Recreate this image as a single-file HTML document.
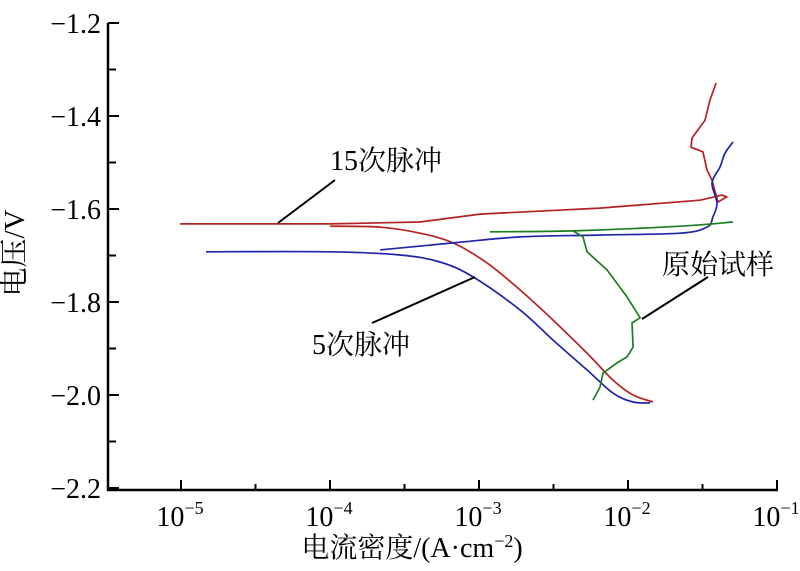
<!DOCTYPE html>
<html><head><meta charset="utf-8"><style>
body{margin:0;background:#fff;}
svg text{font-family:"Liberation Serif","Noto Serif CJK SC","Noto Sans CJK SC",serif;fill:#000;}
</style></head><body>
<svg id="chart" width="800" height="566" xmlns="http://www.w3.org/2000/svg">
<g id="axes"></g>
<g id="series"></g>
<g id="annot">
<text x="330" y="170" font-size="28">15次脉冲</text>
<line x1="335" y1="180" x2="278" y2="223" stroke="#000" stroke-width="2"/>
<text x="312" y="354" font-size="28">5次脉冲</text>
<line x1="372" y1="323" x2="475" y2="277" stroke="#000" stroke-width="2"/>
<text x="662" y="274" font-size="28">原始试样</text>
<line x1="642" y1="319" x2="708" y2="277" stroke="#000" stroke-width="2"/>
<text x="24" y="253" font-size="29" text-anchor="middle" transform="rotate(-90 24 253)">电压/V</text>
<text x="412" y="557" font-size="28" text-anchor="middle">电流密度/(A·cm<tspan dy="-10" font-size="18">−2</tspan><tspan dy="10">)</tspan></text>
</g>
</svg>
<script>
const xTicks=[-5,-4,-3,-2,-1];
const yTicks=[-1.2,-1.4,-1.6,-1.8,-2.0,-2.2];
const yTickLabels=["−1.2","−1.4","−1.6","−1.8","−2.0","−2.2"];
const red15AnodicLog=[-5.007,-4.0,-3.396,-2.993,-2.188,-1.517,-1.369,-1.336,-1.396,-1.436,-1.470,-1.497,-1.577,-1.570,-1.483,-1.450,-1.409];
const red15AnodicE=[-1.632,-1.632,-1.628,-1.611,-1.598,-1.581,-1.570,-1.574,-1.585,-1.538,-1.516,-1.477,-1.467,-1.447,-1.409,-1.366,-1.329];
const red15CathLog=[-4.0,-3.664,-3.396,-3.174,-2.946,-2.725,-2.503,-2.275,-2.101,-1.966,-1.832];
const red15CathE=[-1.637,-1.639,-1.652,-1.673,-1.716,-1.774,-1.839,-1.910,-1.968,-2.0,-2.015];
const blue5CathLog=[-4.832,-4.0,-3.530,-3.262,-3.040,-2.725,-2.503,-2.275,-2.101,-1.966,-1.852];
const blue5CathE=[-1.692,-1.692,-1.699,-1.714,-1.746,-1.817,-1.882,-1.946,-1.996,-2.015,-2.017];
const blue5AnodicLog=[-3.664,-3.174,-2.725,-2.188,-1.651,-1.470,-1.430,-1.403,-1.436,-1.383,-1.349,-1.295];
const blue5AnodicE=[-1.688,-1.673,-1.660,-1.656,-1.652,-1.639,-1.617,-1.587,-1.544,-1.510,-1.480,-1.456];
const greenFlatLog=[-2.926,-2.369,-1.651,-1.295];
const greenFlatE=[-1.649,-1.647,-1.637,-1.628];
const greenDescLog=[-2.369,-2.302,-2.275,-2.141,-2.007,-1.919,-1.973,-1.966,-2.007,-2.074,-2.168,-2.188,-2.235];
const greenDescE=[-1.647,-1.660,-1.692,-1.731,-1.789,-1.834,-1.845,-1.897,-1.918,-1.931,-1.953,-1.983,-2.011];

const NS="http://www.w3.org/2000/svg";
const X=l=>181+(l+5)*149;
const Y=e=>23+(-1.2-e)*465;
const axes=document.getElementById('axes'), ser=document.getElementById('series');
function mk(tag,attrs,parent){const el=document.createElementNS(NS,tag);for(const k in attrs)el.setAttribute(k,attrs[k]);parent.appendChild(el);return el;}
let a=mk('path',{d:'M108,23 L108,490 L778,490',fill:'none',stroke:'#000','stroke-width':2.5},axes);


yTicks.forEach((v,i)=>{
 const y=Y(v);
 let t=mk('line',{x1:108,x2:119,y1:y,y2:y,stroke:'#000','stroke-width':2},axes);
 
 
 if(i<yTicks.length-1){const ym=Y(v-0.1);let m=mk('line',{x1:108,x2:116,y1:ym,y2:ym,stroke:'#000','stroke-width':2},axes);
 
 }
 let tx=mk('text',{x:101,y:y+10,'font-size':28,'text-anchor':'end'},axes);tx.textContent=yTickLabels[i];
 
 
});
xTicks.forEach((v,i)=>{
 const x=X(v);
 let t=mk('line',{x1:x,x2:x,y1:490,y2:480,stroke:'#000','stroke-width':2},axes);
 
 
 if(i<xTicks.length-1){const xm=X(v+0.5);let m=mk('line',{x1:xm,x2:xm,y1:490,y2:484,stroke:'#000','stroke-width':2},axes);
 
 }
 let tx=mk('text',{x:x-1,y:526,'font-size':28,'text-anchor':'middle'},axes);
 tx.innerHTML='10<tspan dy="-12" font-size="18">−'+(-v)+'</tspan>';
 
 
});
function line(ls,es,color,name,smooth){
 const pts=ls.map((l,i)=>[X(l),Y(es[i])]);
 let d='M'+pts[0][0].toFixed(1)+','+pts[0][1].toFixed(1);
 for(let i=0;i<pts.length-1;i++){
  if(smooth){
   const p0=pts[Math.max(0,i-1)],p1=pts[i],p2=pts[i+1],p3=pts[Math.min(pts.length-1,i+2)];
   const c1=[p1[0]+(p2[0]-p0[0])/6,p1[1]+(p2[1]-p0[1])/6],c2=[p2[0]-(p3[0]-p1[0])/6,p2[1]-(p3[1]-p1[1])/6];
   d+=' C'+c1.map(n=>n.toFixed(1))+' '+c2.map(n=>n.toFixed(1))+' '+p2.map(n=>n.toFixed(1));
  } else d+=' L'+pts[i+1][0].toFixed(1)+','+pts[i+1][1].toFixed(1);
 }
 const p=mk('path',{d:d,fill:'none',stroke:color,'stroke-width':1.7,'stroke-linejoin':'round'},ser);
 
 
}
line(red15AnodicLog,red15AnodicE,'#b52222','series-15-pulse-anodic',false);
line(red15CathLog,red15CathE,'#b52222','series-15-pulse-cathodic',true);
line(blue5CathLog,blue5CathE,'#1f24a8','series-5-pulse-cathodic',true);
line(blue5AnodicLog,blue5AnodicE,'#1f24a8','series-5-pulse-anodic',true);
line(greenFlatLog,greenFlatE,'#1e7d1e','series-original-flat',true);
line(greenDescLog,greenDescE,'#1e7d1e','series-original-descent',false);
</script>
</body></html>
